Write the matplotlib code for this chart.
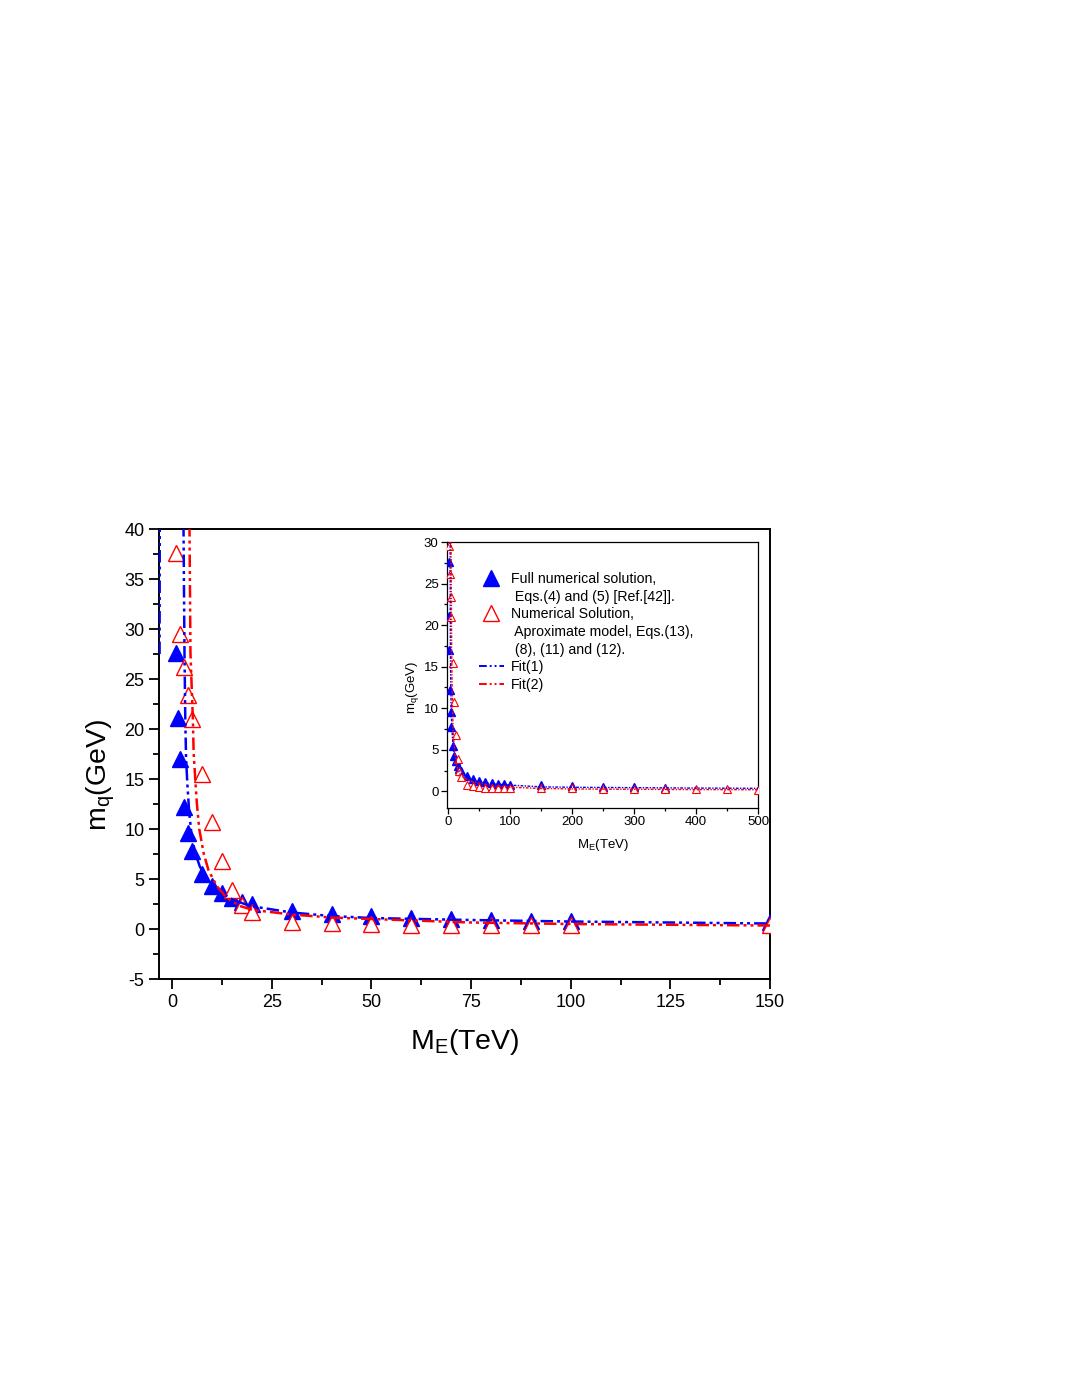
import matplotlib
matplotlib.use("Agg")
import matplotlib.pyplot as plt
from matplotlib.lines import Line2D
from matplotlib.ticker import MultipleLocator

plt.rcParams["font.family"] = ["Liberation Sans", "DejaVu Sans"]
plt.rcParams["mathtext.fontset"] = "custom"
plt.rcParams["mathtext.rm"] = "Liberation Sans"
plt.rcParams["mathtext.it"] = "Liberation Sans"
plt.rcParams["axes.unicode_minus"] = False

# Full numerical solution (filled blue triangles)
blue_x = [1, 1.5, 2, 3, 4, 5, 7.5, 10, 12.5, 15, 17.5, 20, 30, 40, 50, 60, 70, 80, 90, 100,
          150, 200, 250, 300, 350]
blue_y = [27.6, 21.1, 17.0, 12.2, 9.6, 7.8, 5.5, 4.3, 3.6, 3.1, 2.7, 2.5, 1.8, 1.5, 1.3, 1.1,
          1.0, 0.9, 0.85, 0.8, 0.75, 0.6, 0.55, 0.5, 0.45]

# Approximate model (open red triangles)
red_x = [1, 2, 3, 4, 5, 7.5, 10, 12.5, 15, 17.5, 20, 30, 40, 50, 60, 70, 80, 90, 100,
         150, 200, 250, 300, 350, 400, 450, 500]
red_y = [37.6, 29.5, 26.2, 23.4, 21.0, 15.5, 10.7, 6.8, 3.9, 2.4, 1.7, 0.75, 0.6, 0.5, 0.45,
         0.4, 0.4, 0.4, 0.4, 0.4, 0.35, 0.3, 0.3, 0.25, 0.25, 0.25, 0.2]

# Fit(1)
fit1_x = [2.85, 3.1, 3.3, 3.5, 3.85, 4.3, 4.9, 5.8, 6.9, 8.7, 11.2, 15.4, 19.6, 30, 40, 50,
          75, 100, 150, 200, 300, 400, 500]
fit1_y = [40.5, 27.6, 21, 17, 14.3, 11.6, 9.3, 7.6, 6.3, 4.9, 3.9, 2.9, 2.3, 1.65, 1.3, 1.1,
          0.9, 0.75, 0.55, 0.5, 0.45, 0.4, 0.37]
fit1_left_x = [-3.15, -3.1]
fit1_left_y = [27.5, 41]

# Fit(2)
fit2_x = [4.35, 4.6, 5.2, 5.4, 5.8, 6.2, 6.8, 7.9, 9.1, 11.2, 13.7, 17, 20.4, 30, 40, 50,
          75, 100, 150, 200, 300, 400, 500]
fit2_y = [40.5, 27.6, 21, 17.6, 15, 12.6, 10, 7.6, 5.9, 4.3, 3.1, 2.3, 1.9, 1.45, 1.15, 1.0,
          0.65, 0.5, 0.35, 0.3, 0.25, 0.22, 0.2]

BLUE = "#0000ff"
RED = "#ff0000"
fit_dash = (5, 1.6, 1.2, 1.6, 1.2, 1.6)

fig = plt.figure(figsize=(10.8, 13.97), dpi=100)

# main panel
ax = fig.add_axes([0.1472, 0.2992, 0.5658, 0.3221])
ax.plot(blue_x, blue_y, linestyle="none", marker="^", ms=12, color=BLUE, zorder=3)
ax.plot(red_x, red_y, linestyle="none", marker="^", ms=12, mfc="white", mec=RED, mew=1.0,
        zorder=4)
ax.plot(fit1_x, fit1_y, color=BLUE, lw=1.8, dashes=fit_dash, zorder=5)
ax.plot(fit1_left_x, fit1_left_y, color=BLUE, lw=1.8, dashes=fit_dash, zorder=5)
ax.plot(fit2_x, fit2_y, color=RED, lw=1.8, dashes=fit_dash, zorder=5)

ax.set_xlim(-3.3, 150)
ax.set_ylim(-5, 40)
ax.xaxis.set_major_locator(MultipleLocator(25))
ax.xaxis.set_minor_locator(MultipleLocator(12.5))
ax.yaxis.set_major_locator(MultipleLocator(5))
ax.yaxis.set_minor_locator(MultipleLocator(2.5))
ax.tick_params(which="both", direction="out", top=False, right=False, width=1.3,
               labelsize=13)
ax.tick_params(which="major", length=7)
ax.tick_params(which="minor", length=4)
for sp in ax.spines.values():
    sp.set_linewidth(1.4)
ax.set_xlabel(r"M$_\mathregular{E}$(TeV)", fontsize=20.5, labelpad=12)
ax.set_ylabel(r"m$_\mathregular{q}$(GeV)", fontsize=20.5)
ax.yaxis.set_label_coords(-0.069, 0.453)

# inset
ins = fig.add_axes([0.4139, 0.4216, 0.2880, 0.1904])
ins.plot(blue_x, blue_y, linestyle="none", marker="^", ms=5.5, color=BLUE, zorder=3)
ins.plot(red_x, red_y, linestyle="none", marker="^", ms=6, mfc="white", mec=RED, mew=0.8,
         zorder=4)
ins.plot(fit1_x, fit1_y, color=BLUE, lw=1.0, dashes=(2, 1, 1, 1), zorder=5)
ins.plot(fit2_x, fit2_y, color=RED, lw=1.0, dashes=(2, 1, 1, 1), zorder=5)
ins.set_xlim(-2, 500)
ins.set_ylim(-2, 30)
ins.xaxis.set_major_locator(MultipleLocator(100))
ins.xaxis.set_minor_locator(MultipleLocator(50))
ins.yaxis.set_major_locator(MultipleLocator(5))
ins.yaxis.set_minor_locator(MultipleLocator(2.5))
ins.tick_params(which="both", direction="out", top=False, right=False, width=0.9,
                labelsize=9.5, pad=2)
ins.tick_params(which="major", length=4)
ins.tick_params(which="minor", length=2.5)
for sp in ins.spines.values():
    sp.set_linewidth(0.9)
ins.set_xlabel(r"M$_\mathregular{E}$(TeV)", fontsize=9.5, labelpad=6)
ins.set_ylabel(r"m$_\mathregular{q}$(GeV)", fontsize=9.5)
ins.yaxis.set_label_coords(-0.085, 0.455)

blank = Line2D([], [], color="none")
handles = [
    Line2D([], [], linestyle="none", marker="^", ms=12, color=BLUE),
    blank,
    Line2D([], [], linestyle="none", marker="^", ms=12, mfc="white", mec=RED, mew=1.0),
    blank,
    blank,
    Line2D([], [], color=BLUE, lw=1.4, dashes=(4, 1.5, 1, 1.5, 1, 1.5)),
    Line2D([], [], color=RED, lw=1.4, dashes=(4, 1.5, 1, 1.5, 1, 1.5)),
]
labels = [
    "Full numerical solution,",
    " Eqs.(4) and (5) [Ref.[42]].",
    "Numerical Solution,",
    " Aproximate model, Eqs.(13),",
    " (8), (11) and (12).",
    "Fit(1)",
    "Fit(2)",
]
ins.legend(handles, labels, loc="upper left", bbox_to_anchor=(0.103, 0.886),
           frameon=False, fontsize=10.2, handlelength=1.75, handletextpad=0.5,
           labelspacing=0.25, borderpad=0, borderaxespad=0)

fig.savefig("out.png", dpi=100)
